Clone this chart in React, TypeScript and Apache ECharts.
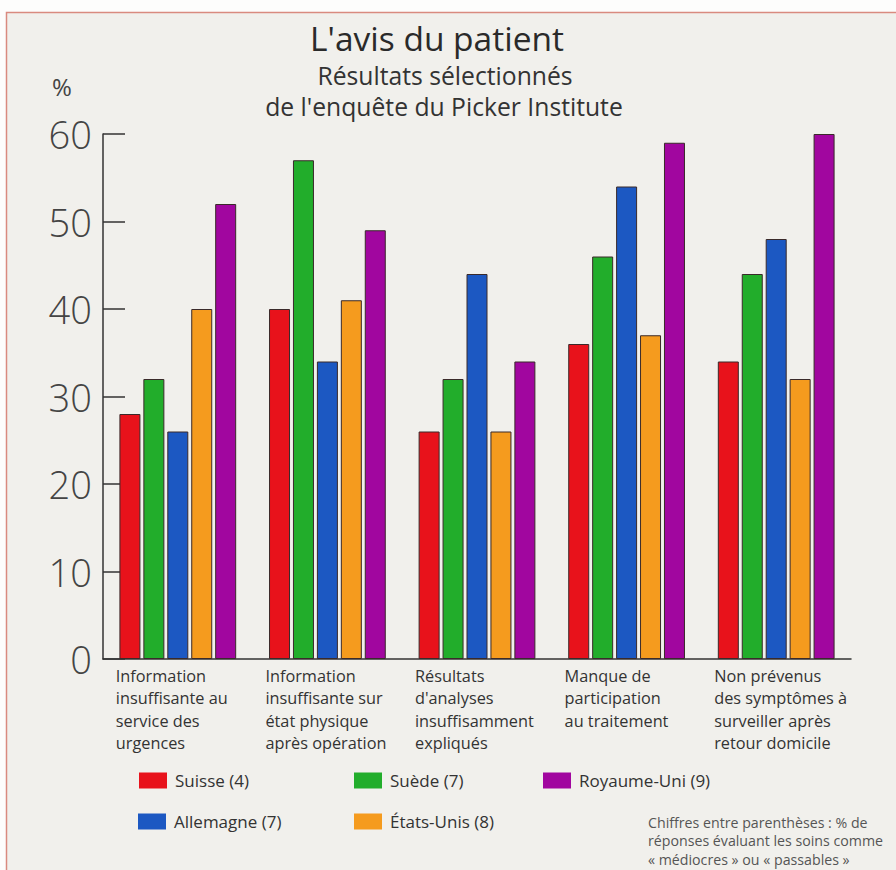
import React, { useEffect, useRef } from "react";
import * as echarts from "echarts";

const categories: string[][] = [
  ["Information", "insuffisante au", "service des", "urgences"],
  ["Information", "insuffisante sur", "état physique", "après opération"],
  ["Résultats", "d'analyses", "insuffisamment", "expliqués"],
  ["Manque de", "participation", "au traitement"],
  ["Non prévenus", "des symptômes à", "surveiller après", "retour domicile"],
];

const seriesNames = ["Suisse (4)", "Suède (7)", "Allemagne (7)", "États-Unis (8)", "Royaume-Uni (9)"];
const suisse = [28, 40, 26, 36, 34];
const suede = [32, 57, 32, 46, 44];
const allemagne = [26, 34, 44, 54, 48];
const etatsUnis = [40, 41, 26, 37, 32];
const royaumeUni = [52, 49, 34, 59, 60];
const seriesValues = [suisse, suede, allemagne, etatsUnis, royaumeUni];
const colors = ["#e8121b", "#22ad2b", "#1c58c2", "#f59b1e", "#a1069f"];

const yTicks = { min: 0, max: 60, interval: 10 };
const titleText = "L'avis du patient";
const subtitleLines = ["Résultats sélectionnés", "de l'enquête du Picker Institute"];
const footnoteLines = [
  "Chiffres entre parenthèses : % de",
  "réponses évaluant les soins comme",
  "« médiocres » ou « passables »",
];

const FONT = "'Open Sans', 'Noto Sans', sans-serif";

export default function App() {
  const ref = useRef<HTMLDivElement>(null);
  useEffect(() => {
    if (!ref.current) return;
    const chart = echarts.init(ref.current, undefined, { renderer: "svg" });
    const legendPos = [
      { left: 139, top: 772 },
      { left: 354, top: 772 },
      { left: 138, top: 813 },
      { left: 354, top: 813 },
      { left: 543, top: 772 },
    ];
    const subTops = [63, 94];
    const subLefts = [445, 444];
    chart.setOption({
      animation: false,
      backgroundColor: "#fdfdfc",
      textStyle: { fontFamily: FONT },
      title: [
        {
          text: titleText,
          left: 437,
          top: 25,
          padding: 0,
          textAlign: "center",
          textStyle: { fontFamily: FONT, fontSize: 33.5, fontWeight: 400, color: "#2a2a2a", lineHeight: 26 },
        },
        ...subtitleLines.map((t, i) => ({
          text: t,
          left: subLefts[i],
          top: subTops[i],
          padding: 0,
          textAlign: "center",
          textStyle: { fontFamily: FONT, fontSize: 24.7, fontWeight: 400, color: "#333", lineHeight: 24 },
        })),
      ],
      graphic: [
        {
          type: "rect",
          z: -10,
          silent: true,
          shape: { x: 6.5, y: 12.5, width: 1000, height: 1000 },
          style: { fill: "#f1f0ec", stroke: "#d98a7f", lineWidth: 1.5 },
        },
        {
          type: "text",
          left: 52,
          top: 74,
          style: { text: "%", font: `400 24px ${FONT}`, fill: "#444" },
        },
        {
          type: "text",
          left: 648,
          top: 813,
          style: {
            text: footnoteLines.join("\n"),
            font: `400 14.2px ${FONT}`,
            fill: "#555",
            lineHeight: 18.5,
          },
        },
      ],
      legend: seriesNames.map((n, i) => ({
        data: [n],
        left: legendPos[i].left,
        top: legendPos[i].top,
        padding: 0,
        icon: "rect",
        itemWidth: 28,
        itemHeight: 16,
        itemGap: 0,
        selectedMode: false,
        itemStyle: { borderWidth: 0 },
        textStyle: { fontFamily: FONT, fontSize: 17, color: "#333", padding: [0, 0, 0, 3] },
      })),
      grid: { left: 103, top: 134, width: 748, height: 525, containLabel: false },
      xAxis: {
        type: "category",
        data: categories.map((c) => c.join("\n")),
        axisLine: { lineStyle: { color: "#333", width: 1.5 } },
        axisTick: { inside: true, length: 8, lineStyle: { color: "#333", width: 1.5 } },
        axisLabel: {
          interval: 0,
          margin: 6,
          formatter: (v: string) => v.split("\n").map((l) => `{a|${l}}`).join("\n"),
          rich: {
            a: {
              width: 124,
              align: "left",
              fontFamily: FONT,
              fontSize: 16.3,
              lineHeight: 22.3,
              color: "#333",
            },
          },
        },
      },
      yAxis: {
        type: "value",
        min: yTicks.min,
        max: yTicks.max,
        interval: yTicks.interval,
        splitLine: { show: false },
        axisLine: { show: true, lineStyle: { color: "#333", width: 1.5 } },
        axisTick: { show: true, inside: true, length: 22, lineStyle: { color: "#333", width: 1.5 } },
        axisLabel: { margin: 11, fontFamily: FONT, fontSize: 38, fontWeight: 300, color: "#444" },
      },
      series: seriesNames.map((n, i) => ({
        name: n,
        type: "bar",
        data: seriesValues[i],
        barWidth: 21,
        barGap: "14%",
        itemStyle: { color: colors[i], borderColor: "#3a2a2a", borderWidth: 1 },
      })),
    });
    return () => chart.dispose();
  }, []);
  return <div ref={ref} style={{ position: "absolute", left: 0, top: 0, width: 896, height: 870 }} />;
}
